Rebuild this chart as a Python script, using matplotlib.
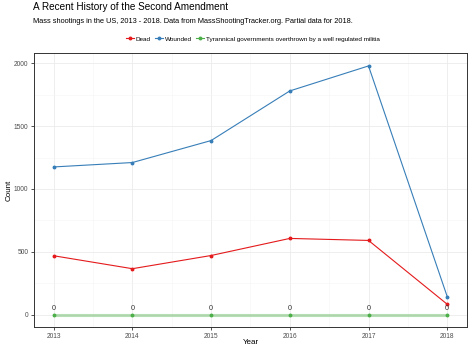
import matplotlib.pyplot as plt
from matplotlib.lines import Line2D
import numpy as np

plt.rcParams['font.family'] = ['Liberation Sans', 'DejaVu Sans']

years = [2013, 2014, 2015, 2016, 2017, 2018]
dead = [468, 365, 470, 606, 590, 82]
wounded = [1175, 1210, 1385, 1780, 1979, 143]
overthrown = [0, 0, 0, 0, 0, 0]

c_dead = '#E41A1C'
c_wounded = '#377EB8'
c_green = '#4DAF4A'

fig = plt.figure(figsize=(4.74, 3.51), dpi=100)
ax = fig.add_axes([0.0717, 0.0684, 0.9133, 0.7792])

h1, = ax.plot(years, dead, color=c_dead, lw=0.8, marker='o', ms=1.8, label='Dead')
h2, = ax.plot(years, wounded, color=c_wounded, lw=0.8, marker='o', ms=1.8, label='Wounded')
ax.plot(years, overthrown, color=c_green, lw=2.2, alpha=0.4)
ax.plot(years, overthrown, lw=0, marker='o', ms=1.8, color=c_green)
h3 = Line2D([], [], color=c_green, lw=0.8, marker='o', ms=1.8,
            label='Tyrannical governments overthrown by a well regulated militia')
for x, v in zip(years, overthrown):
    ax.text(x, v + 20, str(v), ha='center', va='bottom', fontsize=5.2, color='#333333')

ax.set_xlim(2012.75, 2018.25)
ax.set_ylim(-99, 2078)
ax.set_xticks(years)
ax.set_xticks(np.arange(2013.5, 2018, 1), minor=True)
ax.set_yticks([0, 500, 1000, 1500, 2000])
ax.set_yticks([250, 750, 1250, 1750], minor=True)
ax.grid(which='major', color='#EBEBEB', lw=0.6)
ax.grid(which='minor', color='#F5F5F5', lw=0.4)
ax.set_axisbelow(True)
for s in ax.spines.values():
    s.set_color('#333333')
    s.set_linewidth(0.7)
ax.tick_params(which='major', length=2.5, width=0.6, color='#333333',
               labelsize=4.8, labelcolor='#4D4D4D', pad=1.5)
ax.tick_params(which='minor', length=0)
ax.set_xlabel('Year', fontsize=5.8)
ax.set_ylabel('Count', fontsize=5.8)
ax.xaxis.set_label_coords(0.5, -0.045)
ax.yaxis.set_label_coords(-0.05, 0.5)

fig.text(0.0696, 0.979, 'A Recent History of the Second Amendment', fontsize=7.2,
         va='center', ha='left')
fig.text(0.0696, 0.940, 'Mass shootings in the US, 2013 - 2018. Data from MassShootingTracker.org. Partial data for 2018.',
         fontsize=5.35, va='center', ha='left')
fig.legend(handles=[h1, h2, h3], loc='center', bbox_to_anchor=(0.533, 0.889), ncol=3,
           frameon=False, fontsize=4.6, handlelength=1.2, handletextpad=0.3,
           columnspacing=0.7)

fig.savefig('out.png', dpi=100)
